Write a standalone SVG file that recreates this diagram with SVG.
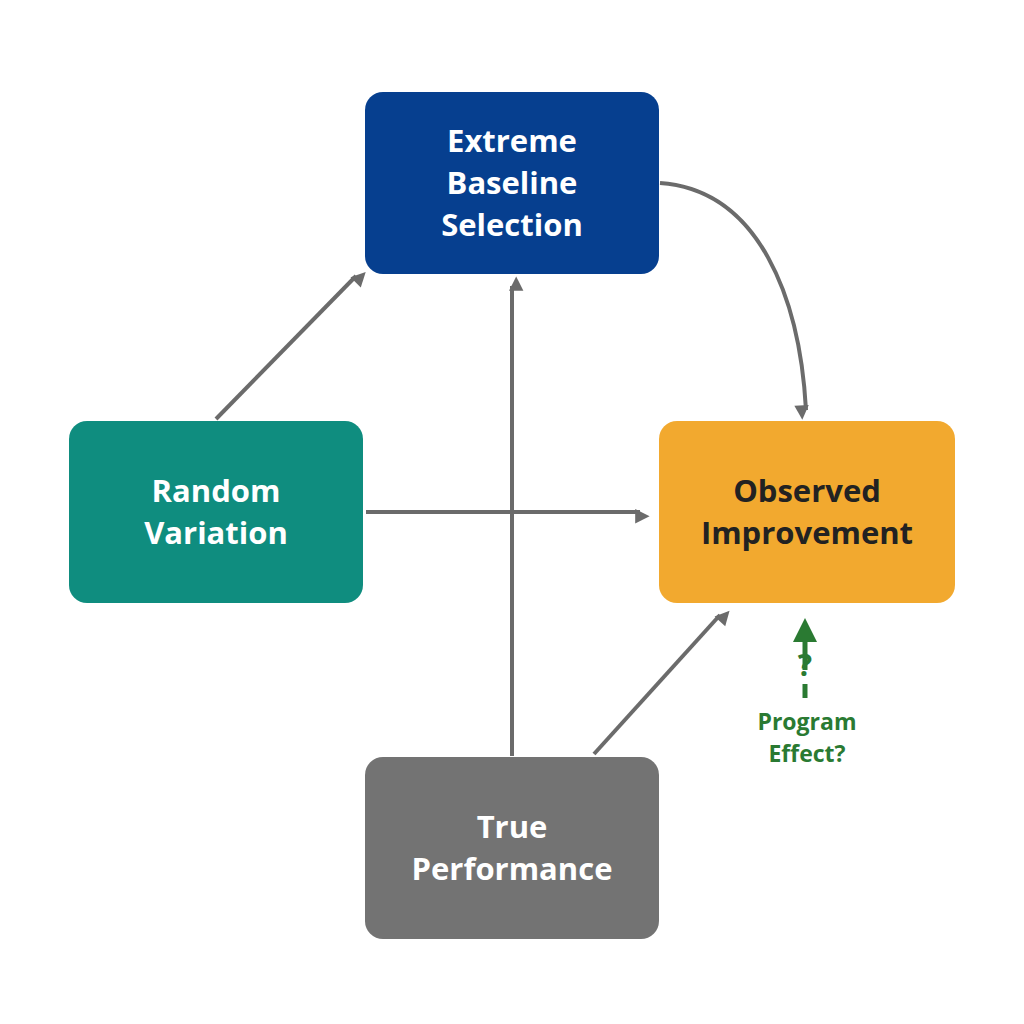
<svg xmlns="http://www.w3.org/2000/svg" width="1024" height="1024" viewBox="0 0 1024 1024">
<style>
.n text{font-family:"Open Sans","DejaVu Sans",sans-serif;font-weight:700;font-size:31px;text-anchor:middle}
.c{stroke:#6b6b6b;stroke-width:4;fill:none;marker-end:url(#a)}
.g{font-family:"Open Sans","DejaVu Sans",sans-serif;font-weight:700;font-size:23px;fill:#2a7a32;text-anchor:middle}
</style>
<defs>
<marker id="a" viewBox="0 0 10 10" refX="8" refY="5" markerWidth="6" markerHeight="6" orient="auto" markerUnits="userSpaceOnUse" style="overflow:visible"><path d="M0,0 L10,5 L0,10 Z" fill="#6b6b6b" transform="scale(2.4) translate(-5,-5) translate(5,5)"/></marker>
<marker id="ga" viewBox="0 0 10 10" refX="5" refY="5" markerWidth="24" markerHeight="24" orient="auto" markerUnits="userSpaceOnUse"><path d="M0,0 L10,5 L0,10 Z" fill="#2a7a32"/></marker>
</defs>
<rect width="1024" height="1024" fill="#fff"/>
<g id="connectors">
<path class="c" d="M216,419 L356,276"/>
<path class="c" d="M512,756 L512,286"/>
<path class="c" d="M366,512 L640,512"/>
<path class="c" d="M594,754 L720,615"/>
<path class="c" d="M660,183 C760,190 800,300 806,410"/>
<path d="M805,670 L805,630" stroke="#2a7a32" stroke-width="5" marker-end="url(#ga)"/>
<path d="M805,684 L805,698" stroke="#2a7a32" stroke-width="5"/>
</g>
<g id="extreme" class="n"><rect x="365" y="92" width="294" height="182" rx="18" fill="#063f8f"/><text fill="#fff"><tspan x="512" y="152">Extreme</tspan><tspan x="512" y="194">Baseline</tspan><tspan x="512" y="236">Selection</tspan></text></g>
<g id="random" class="n"><rect x="69" y="421" width="294" height="182" rx="18" fill="#0f8d7f"/><text fill="#fff"><tspan x="216" y="502">Random</tspan><tspan x="216" y="544">Variation</tspan></text></g>
<g id="observed" class="n"><rect x="659" y="421" width="296" height="182" rx="18" fill="#f2a92f"/><text fill="#222"><tspan x="807" y="502">Observed</tspan><tspan x="807" y="544">Improvement</tspan></text></g>
<g id="true" class="n"><rect x="365" y="757" width="294" height="182" rx="18" fill="#737373"/><text fill="#fff"><tspan x="512" y="838">True</tspan><tspan x="512" y="880">Performance</tspan></text></g>
<g id="effect"><text class="g" x="805" y="676" style="font-size:30px">?</text><text class="g"><tspan x="807" y="730">Program</tspan><tspan x="807" y="762">Effect?</tspan></text></g>
</svg>
